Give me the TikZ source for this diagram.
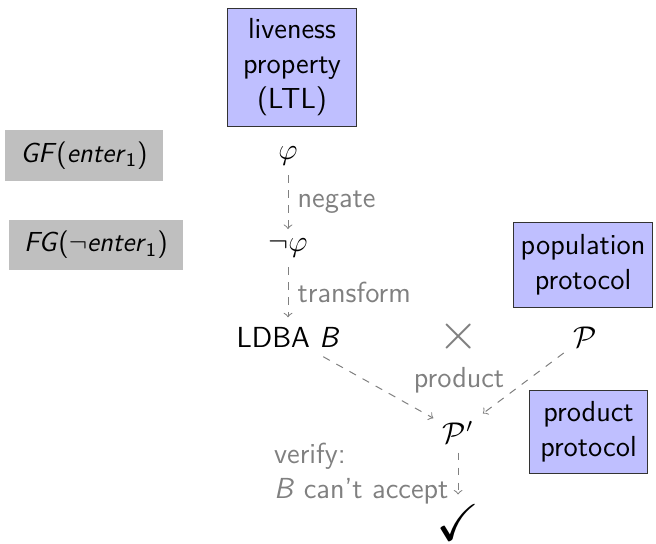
\documentclass[tikz,border=0pt,11pt]{standalone}
\usepackage{tikz}
\usepackage{amsmath}
\usepackage{amssymb}

\begin{document}
\begin{tikzpicture}[
	box/.style={draw=black!80,fill=blue!25,align=center,inner sep=3pt},
	formula/.style={fill=gray!50,inner xsep=6pt,inner ysep=4.5pt,font=\fontsize{11}{13.6}\selectfont\sffamily},
	flow/.style={gray,dashed,->},
	note/.style={gray},
	every node/.style={font=\fontsize{11.6}{14}\selectfont\sffamily}]
	\useasboundingbox (0,0) rectangle (9.222,7.634);
	% explanation boxes
	\node[box,minimum width=51.6pt,minimum height=47.2pt] (live) at (4.105,6.692) {liveness\\property\\(LTL)};
	\node[box,minimum width=55pt,minimum height=34pt] (pop) at (8.196,3.915) {population\\protocol};
	\node[box,minimum width=46.8pt,minimum height=33.2pt] (prod) at (8.273,1.567) {product\\protocol};
	% example formulas
	\node[formula] (gf) at (1.181,5.448) {\textit{GF}(\textit{enter}\textsubscript{1})};
	\node[formula] (fg) at (1.350,4.189) {\textit{FG}($\neg$\textit{enter}\textsubscript{1})};
	% objects
	\node (phi) at (4.049,5.440) {$\varphi$};
	\node (nphi) at (4.049,4.147) {$\neg\varphi$};
	\node (ldba) at (4.049,2.896) {LDBA \textit{B}};
	\node[note] (times) at (6.453,2.903) {\fontsize{22}{22}\selectfont$\times$};
	\node (pp) at (8.224,2.896) {$\mathcal{P}$};
	\node (ppp) at (6.440,1.560) {$\mathcal{P}'$};
	\node (ok) at (6.440,0.295) {\huge$\checkmark$};
	\node[note] (prodlbl) at (6.453,2.291) {product};
	% steps
	\draw[flow] (phi) -- (nphi) node[midway,right,note] {negate};
	\draw[flow] (nphi) -- (ldba) node[midway,right,note] {transform};
	\draw[flow] (ldba) -- (ppp);
	\draw[flow] (pp) -- (ppp);
	\draw[flow] (ppp) -- (ok) node[midway,left,note,align=left] {verify:\\\textit{B} can't accept};
\end{tikzpicture}
\end{document}
